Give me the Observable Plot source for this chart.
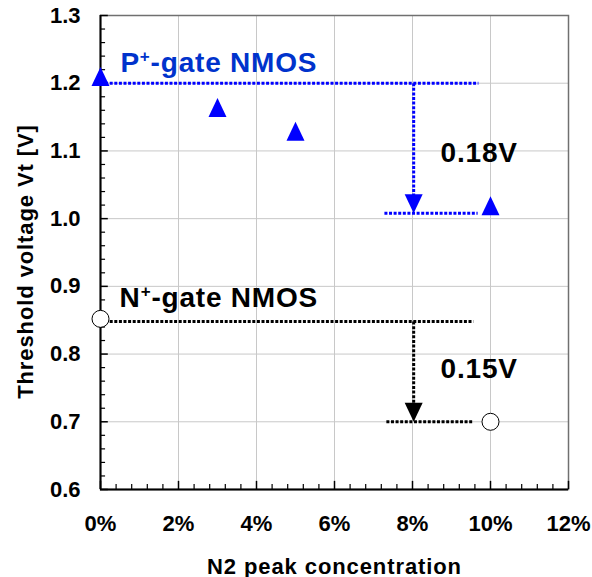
<!DOCTYPE html>
<html><head><meta charset="utf-8">
<script src="https://cdn.jsdelivr.net/npm/d3@7"></script>
<script src="https://cdn.jsdelivr.net/npm/@observablehq/plot@0.6"></script>
<style>body{margin:0;background:#fff}</style>
</head><body><div id="chart"></div>
<script>
// ---- data ----
const xTicks = [0, 2, 4, 6, 8, 10, 12];
const xTickLabels = ["0%", "2%", "4%", "6%", "8%", "10%", "12%"];
const yTicks = [0.6, 0.7, 0.8, 0.9, 1.0, 1.1, 1.2, 1.3];
const yTickLabels = ["0.6", "0.7", "0.8", "0.9", "1.0", "1.1", "1.2", "1.3"];
const xMinor = [0.4,0.8,1.2,1.6,2.4,2.8,3.2,3.6,4.4,4.8,5.2,5.6,6.4,6.8,7.2,7.6,8.4,8.8,9.2,9.6,10.4,10.8,11.2,11.6];
const yMinor = [0.62,0.64,0.66,0.68,0.72,0.74,0.76,0.78,0.82,0.84,0.86,0.88,0.92,0.94,0.96,0.98,1.02,1.04,1.06,1.08,1.12,1.14,1.16,1.18,1.22,1.24,1.26,1.28];

// P+-gate NMOS (triangles)
const pConc = [0, 3, 5, 10];
const pVt = [1.21, 1.164, 1.129, 1.019];
// N+-gate NMOS (open circles)
const nConc = [0, 10];
const nVt = [0.852, 0.70];

// guide lines: [x1, y1, x2, y2]
const pGuideX1 = [0, 8.03, 7.28];
const pGuideY1 = [1.2, 1.2, 1.008];
const pGuideX2 = [9.69, 8.03, 9.67];
const pGuideY2 = [1.2, 1.035, 1.008];
const nGuideX1 = [0, 8.03, 7.33];
const nGuideY1 = [0.848, 0.848, 0.70];
const nGuideX2 = [9.56, 8.03, 9.56];
const nGuideY2 = [0.848, 0.725, 0.70];
// arrow tips
const arrowX = [8.03, 8.03];
const arrowY = [1.008, 0.70];
const arrowColor = ["#0000ff", "#000000"];

// labels
const gateLabels = ["P+-gate NMOS", "N+-gate NMOS"];
const gateLabelX = [0.51, 0.49];
const gateLabelY = [1.216, 0.869];
const gateLabelColor = ["#0033cc", "#000000"];
const shiftLabels = ["0.18V", "0.15V"];
const shiftLabelX = [8.72, 8.72];
const shiftLabelY = [1.083, 0.764];

const xTitle = "N2 peak concentration";
const yTitle = "Threshold voltage Vt [V]";

// ---- build tables ----
const pData = pConc.map((x, i) => ({x, y: pVt[i]}));
const nData = nConc.map((x, i) => ({x, y: nVt[i]}));
const mkGuides = (X1, Y1, X2, Y2) => X1.map((x1, i) => ({x1, y1: Y1[i], x2: X2[i], y2: Y2[i]}));
const pGuides = mkGuides(pGuideX1, pGuideY1, pGuideX2, pGuideY2);
const nGuides = mkGuides(nGuideX1, nGuideY1, nGuideX2, nGuideY2);
const arrows = arrowX.map((x, i) => ({x, y: arrowY[i], c: arrowColor[i]}));
const gLabels = gateLabels.map((t, i) => ({t, x: gateLabelX[i], y: gateLabelY[i], c: gateLabelColor[i]}));
const sLabels = shiftLabels.map((t, i) => ({t, x: shiftLabelX[i], y: shiftLabelY[i]}));

const triUp = {draw(ctx) { ctx.moveTo(0, -9.5); ctx.lineTo(9, 9.5); ctx.lineTo(-9, 9.5); ctx.closePath(); }};
const triDownTip = {draw(ctx) { ctx.moveTo(-9, -19); ctx.lineTo(9, -19); ctx.lineTo(0, 0); ctx.closePath(); }};

const dash = "3,1.6";
const font = "'Liberation Sans', Arial, sans-serif";

const svg = Plot.plot({
  width: 592,
  height: 577,
  marginLeft: 100,
  marginTop: 15,
  marginRight: 24,
  marginBottom: 88,
  style: {fontFamily: font, fontWeight: "bold", background: "#fff", color: "#000"},
  x: {domain: [0, 12]},
  y: {domain: [0.6, 1.3]},
  marks: [
    Plot.gridX(xTicks, {stroke: "#c8c8c8", strokeOpacity: 1, strokeWidth: 1}),
    Plot.gridY(yTicks, {stroke: "#c8c8c8", strokeOpacity: 1, strokeWidth: 1}),
    Plot.frame({stroke: "#707070", strokeWidth: 1.5}),
    Plot.axisX(xTicks, {tickSize: 0, tickPadding: 26, fontSize: 22, tickFormat: (d) => xTickLabels[xTicks.indexOf(d)], label: null}),
    Plot.axisY(yTicks, {tickSize: 0, tickPadding: 20, fontSize: 22, tickFormat: (d) => yTickLabels[yTicks.indexOf(d)], label: null}),
    Plot.ruleY(yTicks, {x1: 0, x2: 0.2, stroke: "#000", strokeWidth: 1.5}),
    Plot.ruleY(yMinor, {x1: 0, x2: 0.13, stroke: "#000", strokeWidth: 1.2}),
    Plot.ruleX(xTicks, {y1: 0.6, y2: 0.612, stroke: "#000", strokeWidth: 1.5}),
    Plot.ruleX(xMinor, {y1: 0.6, y2: 0.6072, stroke: "#000", strokeWidth: 1.2}),
    Plot.ruleX([0], {stroke: "#000", strokeWidth: 2}),
    Plot.ruleY([0.6], {stroke: "#000", strokeWidth: 2}),
    Plot.link(pGuides, {x1: "x1", y1: "y1", x2: "x2", y2: "y2", stroke: "#0000ff", strokeWidth: 3, strokeDasharray: dash}),
    Plot.link(nGuides, {x1: "x1", y1: "y1", x2: "x2", y2: "y2", stroke: "#000", strokeWidth: 3, strokeDasharray: dash}),
    Plot.dot(arrows, {x: "x", y: "y", symbol: triDownTip, fill: "c", stroke: "none"}),
    Plot.dot(pData, {x: "x", y: "y", symbol: triUp, fill: "#0000ff", stroke: "none"}),
    Plot.dot(nData, {x: "x", y: "y", r: 8.5, fill: "#fff", stroke: "#000", strokeWidth: 1}),
    Plot.text(gLabels, {x: "x", y: "y", text: "t", fill: "c", fontSize: 28, textAnchor: "start", lineAnchor: "bottom"}),
    Plot.text(sLabels, {x: "x", y: "y", text: "t", fill: "#000", fontSize: 28, textAnchor: "start", lineAnchor: "bottom"}),
    Plot.text([xTitle], {frameAnchor: "bottom", textAnchor: "middle", dy: 84, fontSize: 22, lineAnchor: "bottom", fill: "#000"}),
    Plot.text([yTitle], {frameAnchor: "left", textAnchor: "middle", dx: -68, dy: 9, rotate: -90, fontSize: 22, lineAnchor: "bottom", fill: "#000"})
  ]
});

// superscript "+" and letter spacing
const ns = "http://www.w3.org/2000/svg";
const textGroups = svg.querySelectorAll('g[aria-label="text"]');
const [gGate, gShift, gXT, gYT] = textGroups;
if (gGate) {
  gGate.querySelectorAll("text").forEach(t => {
    const s = t.textContent; const i = s.indexOf("+");
    if (i < 0) return;
    t.textContent = "";
    const a = document.createElementNS(ns, "tspan"); a.textContent = s.slice(0, i);
    const b = document.createElementNS(ns, "tspan"); b.textContent = "+"; b.setAttribute("font-size", "17"); b.setAttribute("dy", "-10");
    const c = document.createElementNS(ns, "tspan"); c.textContent = s.slice(i + 1); c.setAttribute("dy", "10");
    t.append(a, b, c);
  });
  gGate.style.letterSpacing = "0.8px";
}
if (gShift) gShift.style.letterSpacing = "0.8px";
if (gXT) gXT.style.letterSpacing = "0.9px";
if (gYT) gYT.style.letterSpacing = "0.9px";
document.getElementById("chart").append(svg);
</script>
</body></html>
